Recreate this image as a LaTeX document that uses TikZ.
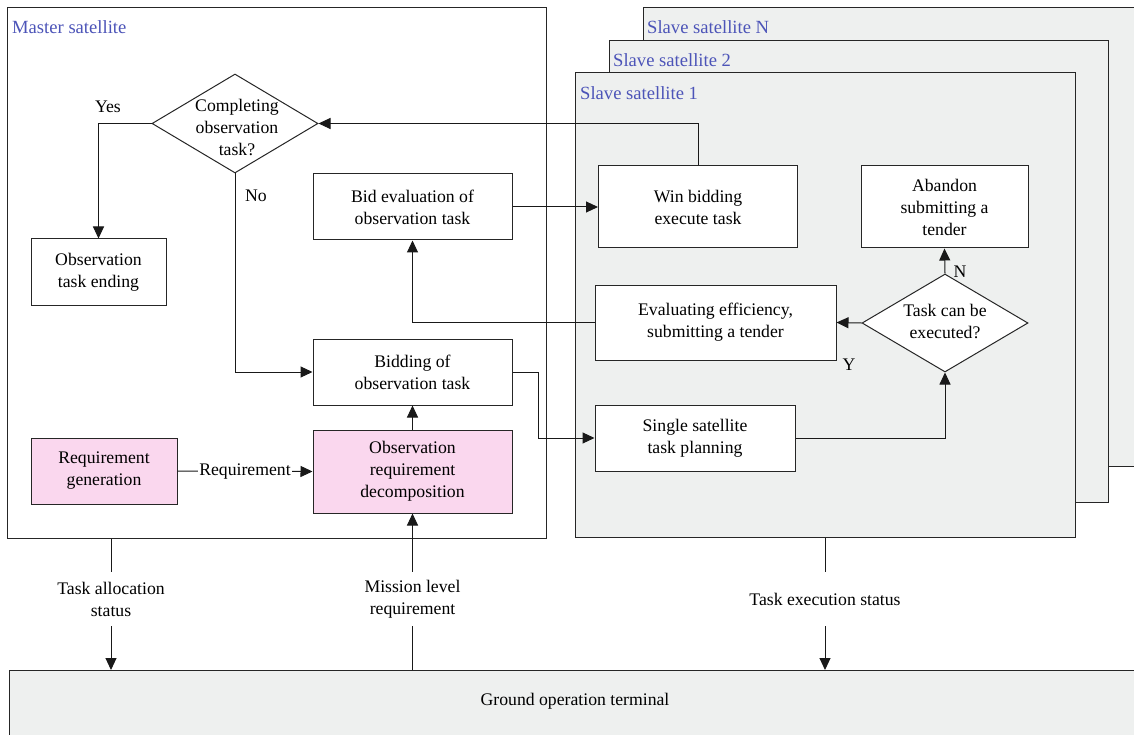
\documentclass[tikz,border=0pt]{standalone}
\usepackage{fontspec}
\setmainfont{Liberation Serif}
\usetikzlibrary{arrows.meta,shapes.geometric,calc}
\definecolor{sattext}{RGB}{76,84,184}
\definecolor{pinkfill}{RGB}{250,215,238}
\definecolor{grayfill}{RGB}{238,240,239}
\begin{document}
\begin{tikzpicture}[x=1pt,y=-1pt,
  font=\fontsize{17.7}{22}\selectfont,
  frame/.style={draw=black!85, line width=1pt, anchor=north west, inner sep=0pt},
  slavebox/.style={frame, fill=grayfill},
  box/.style={draw=black!85, line width=1pt, fill=white, align=center, inner sep=0pt},
  pbox/.style={box, fill=pinkfill},
  dia/.style={diamond, draw=black!85, line width=1pt, fill=white, inner sep=0pt},
  satlabel/.style={text=sattext, anchor=west, inner sep=0pt, font=\fontsize{18.6}{22}\selectfont},
  txt/.style={align=center, inner sep=0pt},
  conn/.style={draw=black!90, line width=1pt},
  arr/.style={conn, -{Triangle[length=12pt,width=11pt]}}
]
\useasboundingbox (0,0) rectangle (1134,735);
\clip (0,0) rectangle (1134,735);

% frames
\node[slavebox, minimum width=600pt, minimum height=459pt] (sN) at (643,7) {};
\node[slavebox, minimum width=499pt, minimum height=462pt] (s2) at (609,40) {};
\node[slavebox, minimum width=500pt, minimum height=465pt] (s1) at (575,72) {};
\node[frame, fill=white, minimum width=539pt, minimum height=531pt] (master) at (7,7) {};
\node[frame, fill=grayfill, minimum width=1140pt, minimum height=80pt] (ground) at (9,670) {};

\node[satlabel] (lm) at (12,27) {Master satellite};
\node[satlabel] (lN) at (647,27) {Slave satellite N};
\node[satlabel] (l2) at (613,60) {Slave satellite 2};
\node[satlabel] (l1) at (580,93) {Slave satellite 1};
\node[txt] (gtext) at (575,701) {Ground operation terminal};

% master nodes
\node[dia, minimum width=166pt, minimum height=99pt] (d1) at (235,123.5) {};
\node[txt] (d1t) at (237,127) {Completing\\observation\\task?};
\node[box, minimum width=135pt, minimum height=66pt] (oend) at (98.5,272) {Observation\\task ending};
\node[box, minimum width=199pt, minimum height=66pt] (bideval) at (412.5,207) {Bid evaluation of\\observation task};
\node[box, minimum width=199pt, minimum height=66pt] (bidding) at (412.5,372) {Bidding of\\observation task};
\node[pbox, minimum width=146pt, minimum height=66pt] (reqgen) at (104,471) {Requirement\\generation};
\node[pbox, minimum width=199pt, minimum height=83pt] (decomp) at (412.5,471.5) {Observation\\requirement\\decomposition};

% slave nodes
\node[box, minimum width=199pt, minimum height=82pt] (win) at (698,207) {Win bidding\\execute task};
\node[box, minimum width=167pt, minimum height=82pt] (abandon) at (944.5,207) {Abandon\\submitting a\\tender};
\node[box, minimum width=241pt, minimum height=75pt] (evalf) at (715.5,322.5) {Evaluating efficiency,\\submitting a tender};
\node[dia, minimum width=166pt, minimum height=98pt] (d2) at (945,323) {};
\node[txt] (d2t) at (945,321) {Task can be\\executed?};
\node[box, minimum width=200pt, minimum height=66pt] (single) at (695,438) {Single satellite\\task planning};

% small labels
\node[txt] (yes) at (108,107) {Yes};
\node[txt] (no) at (256,196) {No};
\node[txt] (nlab) at (960,272) {N};
\node[txt] (ylab) at (849,365) {Y};

% connectors
\draw[arr] (d1.west) -| (oend.north);
\draw[arr] (d1.south) |- (bidding.west);
\draw[arr] (bideval.east) -- (win.west);
\draw[arr] (win.north) |- (d1.east);
\draw[arr] (d2.north) -- (abandon.south);
\draw[arr] (d2.west) -- (evalf.east);
\draw[arr] (evalf.west) -| (bideval.south);
\draw[arr] (bidding.east) -- ++(26,0) |- (single.west);
\draw[arr] (single.east) -| (d2.south);
\draw[arr] (reqgen.east) -- node[fill=white, inner sep=1pt] (reqlab) {Requirement} (decomp.west);
\draw[arr] (decomp.north) -- (bidding.south);

% ground links
\node[txt, minimum height=54pt] (tas) at (111,599) {Task allocation\\status};
\node[txt, minimum height=54pt] (mlr) at (412.5,599) {Mission level\\requirement};
\node[txt, minimum height=54pt] (tes) at (825,599) {Task execution status};
\draw[conn] (tas.north |- master.south) -- (tas.north);
\draw[arr] (tas.south) -- (tas.south |- ground.north);
\draw[conn] (mlr.south |- ground.north) -- (mlr.south);
\draw[arr] (mlr.north) -- (decomp.south);
\draw[conn] (tes.north |- s1.south) -- (tes.north);
\draw[arr] (tes.south) -- (tes.south |- ground.north);
\end{tikzpicture}
\end{document}
